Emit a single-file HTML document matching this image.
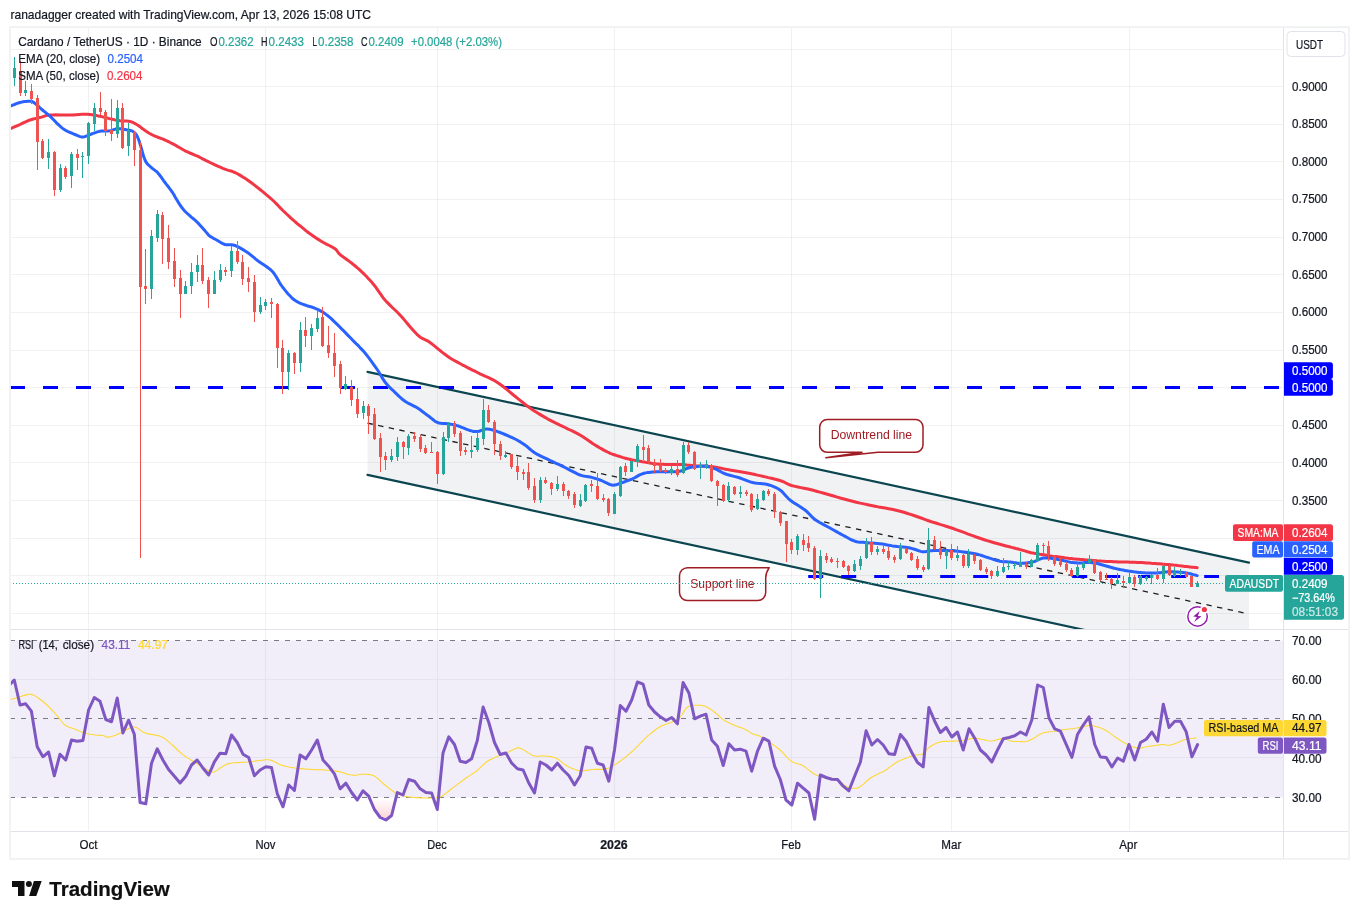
<!DOCTYPE html>
<html lang="en"><head><meta charset="utf-8"><title>ADAUSDT chart</title>
<style>html,body{margin:0;padding:0;background:#fff;}body{width:1359px;height:919px;overflow:hidden;}svg{display:block;font-family:'Liberation Sans', 'DejaVu Sans', sans-serif;}text{white-space:pre;}</style>
</head><body>
<svg width="1359" height="919" viewBox="0 0 1359 919">
<rect width="1359" height="919" fill="#fff"/>
<defs><clipPath id="cm"><rect x="10.5" y="27.5" width="1273" height="601.5"/></clipPath>
<clipPath id="cr"><rect x="10.5" y="629.5" width="1273" height="201.5"/></clipPath>
<linearGradient id="os" gradientUnits="userSpaceOnUse" x1="0" y1="798" x2="0" y2="830"><stop offset="0" stop-color="#f23645" stop-opacity="0"/><stop offset="1" stop-color="#f23645" stop-opacity="0.32"/></linearGradient>
<clipPath id="co"><rect x="10.5" y="798" width="1273" height="33"/></clipPath>
</defs>
<g stroke="#2a2e39" stroke-opacity="0.065" stroke-width="1" shape-rendering="crispEdges">
<line x1="88.5" y1="27" x2="88.5" y2="831"/>
<line x1="265.5" y1="27" x2="265.5" y2="831"/>
<line x1="437.5" y1="27" x2="437.5" y2="831"/>
<line x1="614.5" y1="27" x2="614.5" y2="831"/>
<line x1="791.5" y1="27" x2="791.5" y2="831"/>
<line x1="951.5" y1="27" x2="951.5" y2="831"/>
<line x1="1129.5" y1="27" x2="1129.5" y2="831"/>
<line x1="10" y1="49.5" x2="1283" y2="49.5"/>
<line x1="10" y1="86.5" x2="1283" y2="86.5"/>
<line x1="10" y1="124.5" x2="1283" y2="124.5"/>
<line x1="10" y1="161.5" x2="1283" y2="161.5"/>
<line x1="10" y1="199.5" x2="1283" y2="199.5"/>
<line x1="10" y1="237.5" x2="1283" y2="237.5"/>
<line x1="10" y1="274.5" x2="1283" y2="274.5"/>
<line x1="10" y1="312.5" x2="1283" y2="312.5"/>
<line x1="10" y1="350.5" x2="1283" y2="350.5"/>
<line x1="10" y1="387.5" x2="1283" y2="387.5"/>
<line x1="10" y1="425.5" x2="1283" y2="425.5"/>
<line x1="10" y1="462.5" x2="1283" y2="462.5"/>
<line x1="10" y1="500.5" x2="1283" y2="500.5"/>
<line x1="10" y1="538.5" x2="1283" y2="538.5"/>
<line x1="10" y1="575.5" x2="1283" y2="575.5"/>
<line x1="10" y1="613.5" x2="1283" y2="613.5"/>
</g>
<rect x="10.5" y="640.5" width="1273" height="157" fill="#7e57c2" fill-opacity="0.1"/>
<g stroke="#e6e3f0" stroke-width="1" shape-rendering="crispEdges">
<line x1="10" y1="679.5" x2="1283" y2="679.5"/>
<line x1="10" y1="757.5" x2="1283" y2="757.5"/>
</g>
<g stroke="#787b86" stroke-width="1" stroke-dasharray="5 6" shape-rendering="crispEdges">
<line x1="10" y1="640.5" x2="1283" y2="640.5"/>
<line x1="10" y1="718.5" x2="1283" y2="718.5"/>
<line x1="10" y1="797.5" x2="1283" y2="797.5"/>
</g>
<g clip-path="url(#cm)">
<polygon points="367.5,371.8 1249.0,562.6 1249.0,665.4 367.5,474.6" fill="#787b86" fill-opacity="0.1"/>
<line x1="367.5" y1="371.8" x2="1249.0" y2="562.6" stroke="#0b4650" stroke-width="2.2" stroke-linecap="round"/>
<line x1="367.5" y1="474.8" x2="1249.0" y2="665.6" stroke="#0b4650" stroke-width="2.2" stroke-linecap="round"/>
<line x1="367.5" y1="423.1" x2="1246.0" y2="613.3" stroke="#1e1e1e" stroke-width="1.3" stroke-dasharray="5.4 5.465"/>
<line x1="10" y1="387.5" x2="1283" y2="387.5" stroke="#0000ff" stroke-width="3" stroke-dasharray="15 18"/>
<line x1="808.2" y1="576.5" x2="1219" y2="576.5" stroke="#0000ff" stroke-width="3" stroke-dasharray="15 18"/>
<polyline points="10.0,128.8 11.1,128.3 12.6,127.7 14.4,126.9 16.3,126.1 18.2,125.3 20.0,124.5 21.7,123.7 23.3,122.9 25.0,122.1 26.7,121.4 28.3,120.6 30.0,120.0 31.7,119.5 33.3,119.0 35.0,118.6 36.7,118.3 38.3,117.9 40.0,117.5 41.6,117.1 43.0,116.6 44.4,116.1 45.9,115.6 47.8,115.3 50.0,115.0 52.8,114.9 56.0,114.8 59.5,114.9 63.1,115.0 66.7,115.0 70.0,115.0 73.1,114.9 76.2,114.7 79.2,114.5 82.1,114.3 84.9,114.2 87.5,114.2 89.9,114.4 92.1,114.7 94.2,115.0 96.2,115.4 98.1,115.9 100.0,116.2 101.8,116.6 103.5,117.1 105.2,117.5 106.8,117.9 108.4,118.4 110.0,118.8 111.7,119.1 113.3,119.5 115.0,119.9 116.7,120.2 118.3,120.5 120.0,120.8 121.7,120.9 123.4,121.0 125.2,121.0 126.9,121.1 128.5,121.2 130.0,121.5 131.4,121.9 132.7,122.4 133.9,123.0 135.1,123.6 136.3,124.3 137.5,125.0 138.8,125.8 140.0,126.7 141.2,127.7 142.5,128.7 143.8,129.6 145.0,130.5 146.2,131.3 147.3,132.1 148.4,132.8 149.6,133.5 151.0,134.2 152.5,135.0 154.3,135.8 156.4,136.6 158.6,137.5 160.8,138.3 163.0,139.2 165.0,140.0 166.8,140.8 168.5,141.6 170.2,142.5 171.8,143.3 173.4,144.1 175.0,145.0 176.6,145.9 178.2,146.9 179.8,147.8 181.5,148.8 183.2,149.8 185.0,150.8 186.9,151.7 189.0,152.6 191.1,153.5 193.2,154.4 195.4,155.3 197.5,156.2 199.6,157.2 201.6,158.3 203.6,159.3 205.6,160.4 207.8,161.4 210.0,162.5 212.4,163.6 215.0,164.8 217.7,166.1 220.3,167.2 222.8,168.3 225.0,169.2 226.9,169.9 228.6,170.4 230.2,170.8 231.7,171.2 233.2,171.8 235.0,172.5 236.9,173.5 239.0,174.6 241.1,175.9 243.2,177.2 245.4,178.6 247.5,180.0 249.6,181.5 251.7,183.0 253.8,184.6 255.8,186.2 257.9,187.8 260.0,189.5 262.1,191.2 264.2,192.9 266.2,194.6 268.3,196.3 270.4,198.1 272.5,200.0 274.6,202.0 276.7,204.1 278.8,206.2 280.8,208.4 282.9,210.5 285.0,212.5 287.1,214.5 289.2,216.4 291.2,218.3 293.3,220.1 295.4,222.0 297.5,223.8 299.6,225.5 301.7,227.2 303.8,228.9 305.8,230.6 307.9,232.2 310.0,233.8 312.1,235.2 314.2,236.7 316.2,238.1 318.3,239.4 320.4,240.7 322.5,242.0 324.7,243.2 326.9,244.4 329.2,245.5 331.4,246.6 333.4,247.7 335.0,248.8 336.2,249.7 336.9,250.6 337.5,251.5 338.1,252.4 338.8,253.4 340.0,254.5 341.6,255.8 343.6,257.2 345.8,258.8 348.1,260.4 350.3,262.1 352.5,263.8 354.6,265.5 356.8,267.4 358.9,269.2 361.0,271.2 363.1,273.1 365.0,275.0 366.8,276.8 368.5,278.7 370.2,280.5 371.8,282.3 373.4,284.2 375.0,286.2 376.6,288.4 378.1,290.6 379.7,292.9 381.3,295.2 383.0,297.6 385.0,300.0 387.2,302.4 389.7,304.9 392.3,307.5 395.0,310.0 397.6,312.5 400.0,315.0 402.3,317.5 404.5,320.1 406.7,322.7 408.8,325.2 410.7,327.5 412.5,329.5 414.0,331.2 415.3,332.6 416.4,333.8 417.5,334.9 418.7,335.9 420.0,337.0 421.4,337.9 422.9,338.7 424.4,339.4 426.0,340.1 427.9,341.1 430.0,342.5 432.5,344.4 435.3,346.6 438.3,349.1 441.4,351.6 444.5,354.1 447.5,356.2 450.4,358.2 453.4,360.0 456.4,361.6 459.4,363.2 462.2,364.8 465.0,366.2 467.6,367.6 470.1,368.9 472.5,370.1 474.9,371.2 477.4,372.5 480.0,373.8 482.8,375.1 485.6,376.4 488.6,377.7 491.6,379.2 494.6,380.7 497.5,382.5 500.4,384.5 503.4,386.8 506.4,389.2 509.4,391.6 512.2,394.0 515.0,396.2 517.6,398.3 520.1,400.4 522.5,402.3 524.9,404.2 527.4,406.1 530.0,408.0 532.8,409.9 535.6,411.7 538.6,413.6 541.6,415.4 544.6,417.1 547.5,418.8 550.4,420.3 553.4,421.9 556.4,423.3 559.4,424.8 562.2,426.1 565.0,427.5 567.6,428.8 570.2,430.0 572.7,431.2 575.1,432.4 577.5,433.6 580.0,435.0 582.5,436.6 585.1,438.3 587.7,440.0 590.2,441.8 592.6,443.5 595.0,445.0 597.3,446.4 599.5,447.7 601.7,448.9 603.8,450.1 605.7,451.1 607.5,452.0 609.0,452.7 610.2,453.3 611.2,453.7 612.3,454.1 613.5,454.5 615.0,455.0 616.8,455.6 618.8,456.2 620.9,456.9 623.1,457.6 625.4,458.2 627.5,458.8 629.6,459.2 631.6,459.7 633.6,460.1 635.6,460.5 637.8,460.8 640.0,461.2 642.4,461.7 644.8,462.1 647.3,462.6 649.9,463.0 652.5,463.4 655.0,463.8 657.6,464.0 660.2,464.2 662.8,464.3 665.4,464.4 667.8,464.4 670.0,464.5 671.9,464.5 673.4,464.5 674.9,464.5 676.3,464.4 677.9,464.4 679.8,464.5 681.9,464.6 684.3,464.8 686.9,465.1 689.5,465.3 692.3,465.5 695.0,465.8 697.8,465.9 700.7,466.0 703.6,466.1 706.6,466.3 709.6,466.5 712.5,466.8 715.4,467.2 718.3,467.7 721.2,468.2 724.2,468.9 727.1,469.4 730.0,470.0 732.9,470.5 735.9,471.0 738.9,471.5 741.9,472.0 744.7,472.5 747.5,473.0 750.1,473.5 752.6,474.0 755.0,474.5 757.4,475.1 759.9,475.6 762.5,476.2 765.3,476.9 768.3,477.6 771.4,478.2 774.4,479.0 777.3,479.7 780.0,480.5 782.3,481.3 784.4,482.2 786.2,483.2 788.1,484.1 790.2,485.0 792.5,485.8 795.1,486.4 797.9,487.0 800.8,487.6 803.8,488.2 806.9,488.8 810.0,489.5 813.2,490.3 816.4,491.2 819.7,492.1 823.1,493.0 826.5,494.0 830.0,495.0 833.6,496.0 837.3,497.1 841.1,498.2 844.9,499.2 848.7,500.3 852.5,501.2 856.3,502.2 860.1,503.1 863.9,503.9 867.7,504.7 871.4,505.5 875.0,506.2 878.5,506.9 881.9,507.5 885.3,508.1 888.6,508.7 891.8,509.3 895.0,510.0 898.1,510.7 901.0,511.5 903.9,512.3 906.8,513.2 909.6,514.1 912.5,515.0 915.4,516.0 918.2,517.0 921.1,518.0 924.0,519.1 926.9,520.2 930.0,521.2 933.2,522.3 936.6,523.3 940.0,524.4 943.4,525.4 946.8,526.5 950.0,527.5 953.1,528.5 956.0,529.6 958.9,530.6 961.8,531.7 964.6,532.7 967.5,533.8 970.4,534.8 973.3,535.9 976.2,537.0 979.2,538.0 982.1,539.0 985.0,540.0 988.0,540.9 991.0,541.8 994.1,542.7 997.0,543.5 999.9,544.3 1002.5,545.0 1005.0,545.7 1007.3,546.3 1009.5,546.8 1011.5,547.4 1013.4,547.8 1015.0,548.2 1016.3,548.6 1017.2,548.8 1017.9,549.0 1018.6,549.1 1019.5,549.4 1020.6,549.7 1022.1,550.1 1023.8,550.6 1025.6,551.1 1027.5,551.7 1029.4,552.2 1031.2,552.7 1033.0,553.0 1034.7,553.4 1036.5,553.6 1038.3,553.9 1040.0,554.2 1041.8,554.4 1043.6,554.7 1045.3,555.0 1047.1,555.4 1048.9,555.7 1050.6,555.9 1052.4,556.2 1054.2,556.4 1055.9,556.6 1057.7,556.8 1059.4,557.0 1061.2,557.2 1063.0,557.4 1064.7,557.7 1066.5,557.9 1068.3,558.2 1070.0,558.4 1071.8,558.6 1073.6,558.9 1075.3,559.0 1077.1,559.2 1078.9,559.3 1080.6,559.5 1082.4,559.6 1084.2,559.7 1085.9,559.9 1087.6,560.0 1089.2,560.2 1091.0,560.3 1092.8,560.5 1094.8,560.6 1096.9,560.8 1099.2,560.9 1101.6,561.1 1104.1,561.2 1106.5,561.4 1108.9,561.5 1111.3,561.6 1113.6,561.7 1116.0,561.8 1118.3,561.9 1120.7,562.0 1123.0,562.0 1125.4,562.1 1127.7,562.1 1130.1,562.2 1132.4,562.2 1134.8,562.3 1137.2,562.4 1139.5,562.5 1141.9,562.6 1144.3,562.8 1146.7,563.0 1149.0,563.1 1151.3,563.3 1153.4,563.4 1155.5,563.5 1157.5,563.7 1159.5,563.8 1161.5,564.0 1163.6,564.2 1165.9,564.4 1168.4,564.6 1170.8,564.8 1173.3,565.1 1175.6,565.3 1177.8,565.6 1179.8,565.8 1181.6,566.0 1183.4,566.2 1185.1,566.4 1186.7,566.6 1188.4,566.8 1190.0,567.0 1191.8,567.2 1193.4,567.3 1195.0,567.5 1196.3,567.6 1197.2,567.7" fill="none" stroke="#f23645" stroke-width="3" stroke-linejoin="round" stroke-linecap="round"/>
<polyline points="10.0,106.2 11.1,105.8 12.6,105.2 14.5,104.5 16.4,103.7 18.3,103.0 20.0,102.5 21.6,102.1 23.1,101.8 24.7,101.6 26.2,101.4 27.5,101.3 28.8,101.2 29.8,101.2 30.6,101.2 31.2,101.3 31.9,101.5 32.7,101.9 33.8,102.5 35.0,103.4 36.4,104.6 38.0,105.9 39.5,107.4 41.1,108.8 42.5,110.0 43.8,111.1 45.1,112.1 46.3,113.1 47.5,114.1 48.8,115.2 50.0,116.2 51.2,117.4 52.5,118.7 53.8,120.0 55.0,121.3 56.2,122.6 57.5,123.8 58.7,124.9 59.9,126.0 61.1,127.1 62.3,128.1 63.6,129.1 65.0,130.0 66.6,130.9 68.2,131.7 70.0,132.5 71.8,133.2 73.4,133.9 75.0,134.5 76.4,135.1 77.7,135.7 78.9,136.2 80.1,136.6 81.3,136.9 82.5,137.0 83.7,136.9 84.9,136.6 86.1,136.1 87.3,135.6 88.6,135.0 90.0,134.5 91.5,134.0 93.1,133.4 94.8,132.8 96.6,132.2 98.3,131.6 100.0,131.2 101.7,131.0 103.4,130.9 105.2,130.9 106.9,130.9 108.5,130.9 110.0,130.8 111.3,130.5 112.5,130.1 113.6,129.7 114.7,129.3 115.8,128.9 117.0,128.8 118.3,128.7 119.6,128.7 120.9,128.8 122.2,129.0 123.6,129.2 125.0,129.5 126.5,129.8 128.0,130.0 129.6,130.3 131.1,130.7 132.5,131.2 133.8,132.0 134.8,132.9 135.6,133.8 136.4,134.9 137.1,136.2 137.9,137.9 138.8,140.0 139.7,142.8 140.7,146.2 141.8,150.0 142.9,153.8 143.9,157.3 145.0,160.0 146.0,162.0 147.1,163.5 148.1,164.7 149.2,165.6 150.2,166.5 151.2,167.5 152.3,168.4 153.3,169.2 154.3,169.8 155.3,170.6 156.4,171.4 157.5,172.5 158.7,173.9 159.9,175.5 161.2,177.2 162.5,179.0 163.7,180.8 165.0,182.5 166.2,184.1 167.5,185.7 168.8,187.3 170.0,189.0 171.2,190.7 172.5,192.5 173.8,194.5 175.0,196.7 176.3,198.9 177.6,201.1 178.8,203.2 180.0,205.0 181.1,206.5 182.0,207.8 182.9,208.9 183.8,210.0 184.9,211.2 186.2,212.5 187.9,214.0 189.7,215.6 191.6,217.3 193.7,219.0 195.6,220.7 197.5,222.5 199.3,224.4 201.2,226.5 203.0,228.6 204.8,230.6 206.3,232.4 207.5,233.8 208.3,234.7 208.7,235.2 208.9,235.4 209.1,235.6 209.4,235.8 210.0,236.2 211.0,236.9 212.1,237.5 213.4,238.3 214.8,239.0 216.2,239.8 217.5,240.5 218.7,241.2 219.9,242.0 221.1,242.7 222.3,243.4 223.6,244.0 225.0,244.5 226.5,244.8 228.1,244.8 229.7,244.8 231.4,244.8 233.2,245.0 235.0,245.5 237.0,246.3 239.1,247.4 241.2,248.6 243.4,249.9 245.5,251.2 247.5,252.5 249.3,253.8 250.9,255.1 252.5,256.4 254.1,257.7 255.7,259.1 257.5,260.5 259.5,261.9 261.8,263.5 264.1,265.0 266.3,266.5 268.3,268.0 270.0,269.2 271.2,270.3 272.1,271.2 272.8,271.9 273.4,272.7 274.1,273.7 275.0,275.0 276.1,276.6 277.2,278.5 278.4,280.6 279.6,282.7 281.0,284.9 282.5,287.0 284.2,289.1 286.0,291.4 287.9,293.7 289.9,295.8 291.8,297.8 293.8,299.5 295.6,300.8 297.5,301.9 299.4,302.8 301.2,303.6 303.1,304.3 305.0,305.0 306.9,305.7 308.8,306.3 310.6,306.8 312.5,307.3 314.4,308.0 316.2,308.8 318.1,309.6 320.0,310.6 321.8,311.6 323.7,312.8 325.6,314.1 327.5,315.5 329.5,317.1 331.5,318.9 333.5,320.9 335.6,322.9 337.7,324.9 339.8,327.0 341.8,329.1 344.0,331.2 346.1,333.4 348.2,335.6 350.4,337.8 352.5,340.0 354.6,342.1 356.7,344.2 358.8,346.2 360.8,348.4 362.9,350.6 365.0,353.0 367.1,355.7 369.4,358.6 371.6,361.6 373.7,364.6 375.7,367.4 377.5,370.0 379.0,372.3 380.3,374.5 381.5,376.5 382.6,378.4 383.7,380.2 385.0,382.0 386.4,383.7 387.7,385.3 389.1,386.8 390.6,388.2 392.1,389.7 393.8,391.2 395.5,392.9 397.3,394.6 399.1,396.4 401.1,398.1 403.0,399.8 405.0,401.2 407.0,402.5 409.1,403.7 411.2,404.7 413.4,405.8 415.5,406.8 417.5,408.0 419.5,409.3 421.4,410.7 423.4,412.2 425.2,413.6 427.0,415.0 428.8,416.2 430.3,417.5 431.8,418.7 433.2,419.8 434.6,420.9 436.0,421.8 437.5,422.5 439.1,423.0 440.7,423.3 442.4,423.4 444.1,423.5 445.8,423.6 447.5,423.8 449.1,424.0 450.7,424.3 452.3,424.5 454.0,424.9 455.7,425.2 457.5,425.8 459.5,426.4 461.7,427.3 463.9,428.2 466.1,429.1 468.2,429.9 470.0,430.5 471.5,430.9 472.8,431.2 473.9,431.5 475.0,431.6 476.2,431.6 477.5,431.5 479.0,431.2 480.6,430.7 482.2,430.1 483.9,429.5 485.7,429.1 487.5,429.0 489.4,429.2 491.4,429.6 493.4,430.2 495.6,430.9 497.7,431.7 500.0,432.5 502.4,433.4 505.0,434.5 507.7,435.6 510.3,436.8 512.8,437.9 515.0,439.0 517.0,440.0 518.7,441.0 520.3,441.9 521.9,442.9 523.4,443.9 525.0,445.0 526.6,446.2 528.2,447.6 529.8,449.0 531.5,450.4 533.2,451.7 535.0,453.0 536.9,454.1 538.8,455.1 540.8,456.1 542.9,457.1 545.1,458.1 547.5,459.2 550.2,460.5 553.1,461.9 556.1,463.3 559.2,464.7 562.2,466.1 565.0,467.5 567.7,468.9 570.4,470.3 573.0,471.6 575.5,472.9 577.8,474.1 580.0,475.0 582.0,475.6 583.7,476.0 585.3,476.3 586.9,476.5 588.4,476.7 590.0,477.0 591.7,477.4 593.3,477.9 595.0,478.3 596.7,478.9 598.3,479.4 600.0,480.0 601.7,480.7 603.5,481.5 605.3,482.4 607.0,483.2 608.6,484.0 610.0,484.5 611.1,484.8 611.9,485.1 612.7,485.2 613.3,485.2 614.1,485.1 615.0,485.0 616.1,484.8 617.2,484.4 618.4,484.0 619.7,483.5 621.1,483.0 622.5,482.5 624.0,482.0 625.6,481.4 627.3,480.8 629.1,480.1 630.8,479.5 632.5,478.8 634.2,478.0 635.8,477.1 637.5,476.1 639.2,475.2 640.8,474.4 642.5,473.8 644.1,473.3 645.7,472.9 647.3,472.6 649.0,472.4 650.7,472.2 652.5,472.0 654.4,471.9 656.4,471.8 658.5,471.8 660.6,471.8 662.8,471.8 665.0,471.8 667.4,471.7 669.9,471.7 672.5,471.7 675.1,471.7 677.5,471.5 679.8,471.2 681.7,470.8 683.3,470.1 684.9,469.4 686.4,468.7 688.1,468.0 690.0,467.5 692.3,467.1 694.8,466.8 697.5,466.5 700.2,466.3 702.7,466.2 705.0,466.2 707.0,466.4 708.7,466.7 710.3,467.1 711.9,467.6 713.4,468.1 715.0,468.8 716.6,469.4 718.1,470.3 719.7,471.1 721.3,472.0 723.0,472.9 725.0,473.8 727.2,474.5 729.7,475.2 732.3,475.9 735.0,476.6 737.6,477.3 740.0,478.0 742.2,478.8 744.3,479.6 746.2,480.4 748.2,481.2 750.3,481.9 752.5,482.5 754.9,482.9 757.4,483.2 760.0,483.4 762.6,483.7 765.1,484.0 767.5,484.5 769.8,485.2 771.9,485.9 774.1,486.8 776.1,487.7 778.1,488.8 780.0,490.0 781.8,491.4 783.3,493.0 784.8,494.7 786.4,496.5 788.1,498.3 790.0,500.0 792.3,501.7 794.8,503.4 797.5,505.0 800.2,506.7 802.7,508.4 805.0,510.0 806.9,511.6 808.5,513.2 810.0,514.8 811.5,516.4 813.1,518.0 815.0,519.5 817.2,521.0 819.7,522.5 822.3,523.9 825.0,525.3 827.6,526.7 830.0,528.0 832.2,529.3 834.4,530.5 836.4,531.6 838.4,532.8 840.4,533.9 842.5,535.0 844.6,536.1 846.8,537.3 848.9,538.5 851.0,539.6 853.1,540.5 855.0,541.2 856.8,541.7 858.3,542.0 859.8,542.2 861.4,542.3 863.1,542.3 865.0,542.5 867.2,542.7 869.6,542.9 872.2,543.0 874.8,543.2 877.4,543.5 880.0,543.8 882.5,544.1 885.0,544.5 887.5,545.0 890.0,545.4 892.5,545.9 895.0,546.2 897.5,546.6 900.1,546.8 902.7,547.0 905.2,547.3 907.6,547.6 910.0,548.0 912.3,548.6 914.5,549.3 916.7,550.0 918.8,550.8 920.7,551.4 922.5,551.8 924.0,551.8 925.2,551.7 926.2,551.5 927.3,551.2 928.5,550.9 930.0,550.8 931.8,550.7 933.7,550.6 935.8,550.5 938.0,550.5 940.2,550.5 942.5,550.5 944.8,550.5 947.2,550.6 949.7,550.7 952.2,550.8 954.8,551.0 957.5,551.2 960.3,551.6 963.3,551.9 966.4,552.3 969.4,552.8 972.3,553.2 975.0,553.8 977.4,554.3 979.5,554.9 981.6,555.5 983.5,556.2 985.5,556.9 987.5,557.5 989.6,558.2 991.8,558.9 993.9,559.6 996.0,560.2 998.1,560.8 1000.0,561.2 1001.8,561.5 1003.5,561.7 1005.1,561.8 1006.7,561.8 1008.3,561.9 1010.0,562.0 1011.7,562.2 1013.5,562.5 1015.3,562.7 1017.0,563.0 1018.8,563.2 1020.6,563.3 1022.4,563.3 1024.3,563.2 1026.2,563.0 1028.1,562.8 1029.7,562.6 1031.2,562.4 1032.4,562.2 1033.3,561.9 1034.1,561.6 1034.8,561.3 1035.6,561.0 1036.5,560.6 1037.5,560.2 1038.6,559.7 1039.8,559.2 1041.0,558.6 1042.3,558.2 1043.6,558.0 1044.9,557.9 1046.3,557.9 1047.7,557.9 1049.2,558.1 1050.8,558.3 1052.4,558.5 1054.1,558.8 1055.9,559.1 1057.7,559.5 1059.5,559.9 1061.3,560.3 1063.0,560.6 1064.6,560.9 1066.1,561.3 1067.5,561.6 1068.9,561.9 1070.4,562.2 1071.8,562.4 1073.3,562.6 1074.8,562.7 1076.2,562.8 1077.7,562.9 1079.2,562.9 1080.6,562.9 1082.1,562.9 1083.6,562.7 1085.1,562.6 1086.5,562.5 1088.0,562.4 1089.5,562.4 1090.9,562.5 1092.3,562.7 1093.8,562.9 1095.2,563.1 1096.7,563.4 1098.3,563.8 1100.0,564.2 1101.7,564.7 1103.5,565.2 1105.3,565.8 1107.1,566.3 1108.9,566.8 1110.7,567.3 1112.4,567.7 1114.2,568.2 1116.0,568.6 1117.7,569.1 1119.5,569.4 1121.3,569.8 1123.0,570.1 1124.8,570.4 1126.6,570.7 1128.3,571.0 1130.1,571.2 1131.9,571.5 1133.6,571.8 1135.4,572.0 1137.2,572.2 1138.9,572.5 1140.7,572.6 1142.5,572.8 1144.2,572.8 1146.0,572.9 1147.7,573.0 1149.5,573.0 1151.3,573.0 1153.1,573.0 1154.9,572.9 1156.8,572.9 1158.6,572.8 1160.3,572.7 1161.9,572.6 1163.2,572.5 1164.4,572.3 1165.5,572.1 1166.6,572.0 1167.7,571.8 1168.9,571.7 1170.3,571.7 1171.8,571.8 1173.2,571.8 1174.8,571.9 1176.3,572.0 1177.8,572.1 1179.2,572.2 1180.6,572.3 1182.1,572.4 1183.5,572.5 1185.0,572.7 1186.6,573.0 1188.4,573.4 1190.4,573.8 1192.5,574.4 1194.4,574.9 1196.0,575.3 1197.2,575.6" fill="none" stroke="#2962ff" stroke-width="3" stroke-linejoin="round" stroke-linecap="round"/>
<path d="M14 57h1v29h-1zM13 68h3v10h-3zM25 81h1v15h-1zM24 90h3v3h-3zM48 139h1v30h-1zM47 152h3v6h-3zM60 164h1v28h-1zM59 168h3v22h-3zM71 152h1v36h-1zM70 154h3v22h-3zM82 152h1v26h-1zM81 156h3v1h-3zM88 122h1v42h-1zM87 123h3v33h-3zM94 103h1v28h-1zM93 108h3v16h-3zM117 100h1v38h-1zM116 108h3v26h-3zM128 123h1v33h-1zM127 130h3v16h-3zM151 230h1v69h-1zM150 236h3v53h-3zM157 210h1v32h-1zM156 214h3v24h-3zM185 281h1v13h-1zM184 286h3v8h-3zM191 263h1v31h-1zM190 272h3v14h-3zM197 255h1v27h-1zM196 265h3v7h-3zM214 271h1v23h-1zM213 280h3v14h-3zM220 264h1v18h-1zM219 270h3v10h-3zM231 246h1v31h-1zM230 251h3v20h-3zM260 297h1v17h-1zM259 305h3v7h-3zM265 299h1v11h-1zM264 302h3v4h-3zM288 350h1v40h-1zM287 353h3v19h-3zM300 322h1v50h-1zM299 330h3v33h-3zM311 324h1v26h-1zM310 328h3v8h-3zM317 310h1v22h-1zM316 318h3v11h-3zM345 376h1v14h-1zM344 384h3v5h-3zM363 401h1v18h-1zM362 406h3v7h-3zM391 449h1v13h-1zM390 456h3v4h-3zM397 437h1v24h-1zM396 442h3v15h-3zM408 434h1v21h-1zM407 436h3v12h-3zM443 432h1v43h-1zM442 437h3v37h-3zM448 422h1v20h-1zM447 424h3v14h-3zM471 436h1v22h-1zM470 450h3v2h-3zM477 432h1v20h-1zM476 438h3v12h-3zM483 399h1v46h-1zM482 410h3v29h-3zM505 451h1v7h-1zM504 455h3v2h-3zM540 477h1v26h-1zM539 480h3v20h-3zM557 476h1v15h-1zM556 484h3v5h-3zM580 494h1v13h-1zM579 500h3v6h-3zM585 484h1v18h-1zM584 485h3v16h-3zM614 492h1v22h-1zM613 494h3v20h-3zM620 466h1v31h-1zM619 467h3v29h-3zM631 459h1v13h-1zM630 461h3v11h-3zM637 444h1v23h-1zM636 446h3v16h-3zM671 465h1v10h-1zM670 469h3v4h-3zM683 442h1v32h-1zM682 445h3v28h-3zM700 462h1v17h-1zM699 465h3v3h-3zM706 460h1v9h-1zM705 464h3v3h-3zM728 482h1v20h-1zM727 486h3v14h-3zM740 486h1v12h-1zM739 492h3v2h-3zM757 494h1v16h-1zM756 499h3v10h-3zM763 490h1v11h-1zM762 491h3v9h-3zM797 534h1v21h-1zM796 536h3v14h-3zM820 550h1v48h-1zM819 556h3v23h-3zM854 560h1v12h-1zM853 564h3v7h-3zM860 556h1v14h-1zM859 559h3v7h-3zM866 538h1v21h-1zM865 542h3v16h-3zM877 546h1v9h-1zM876 549h3v3h-3zM900 543h1v17h-1zM899 546h3v13h-3zM928 528h1v42h-1zM927 540h3v29h-3zM946 550h1v19h-1zM945 551h3v5h-3zM957 546h1v15h-1zM956 555h3v3h-3zM968 549h1v19h-1zM967 554h3v12h-3zM997 566h1v11h-1zM996 571h3v5h-3zM1003 558h1v15h-1zM1002 567h3v5h-3zM1008 562h1v8h-1zM1007 566h3v1h-3zM1014 563h1v6h-1zM1013 565h3v1h-3zM1020 552h1v15h-1zM1019 562h3v5h-3zM1031 559h1v8h-1zM1030 560h3v7h-3zM1037 543h1v19h-1zM1036 545h3v16h-3zM1077 563h1v14h-1zM1076 567h3v9h-3zM1083 562h1v8h-1zM1082 563h3v5h-3zM1089 555h1v9h-1zM1088 559h3v4h-3zM1117 573h1v11h-1zM1116 580h3v4h-3zM1129 572h1v12h-1zM1128 577h3v6h-3zM1140 575h1v10h-1zM1139 576h3v8h-3zM1146 576h1v5h-1zM1145 577h3v2h-3zM1151 574h1v10h-1zM1150 575h3v3h-3zM1163 563h1v20h-1zM1162 566h3v13h-3zM1174 567h1v10h-1zM1173 572h3v4h-3zM1180 569h1v7h-1zM1179 572h3v2h-3zM1197 581h1v6h-1zM1196 583h3v4h-3z" fill="#26a69a" shape-rendering="crispEdges"/>
<path d="M20 61h1v35h-1zM19 71h3v22h-3zM31 84h1v20h-1zM30 91h3v8h-3zM37 95h1v75h-1zM36 98h3v44h-3zM42 139h1v20h-1zM41 141h3v17h-3zM54 151h1v45h-1zM53 152h3v38h-3zM65 166h1v13h-1zM64 168h3v9h-3zM77 149h1v21h-1zM76 154h3v4h-3zM100 92h1v23h-1zM99 108h3v4h-3zM105 110h1v26h-1zM104 112h3v19h-3zM111 99h1v42h-1zM110 130h3v4h-3zM122 103h1v46h-1zM121 108h3v40h-3zM134 131h1v35h-1zM133 132h3v18h-3zM140 142h1v416h-1zM139 150h3v137h-3zM145 249h1v55h-1zM144 286h3v3h-3zM162 212h1v52h-1zM161 215h3v24h-3zM168 225h1v44h-1zM167 238h3v24h-3zM174 248h1v39h-1zM173 261h3v18h-3zM180 270h1v48h-1zM179 278h3v16h-3zM202 248h1v36h-1zM201 265h3v16h-3zM208 277h1v31h-1zM207 280h3v14h-3zM225 267h1v9h-1zM224 270h3v2h-3zM237 241h1v23h-1zM236 251h3v11h-3zM242 255h1v30h-1zM241 262h3v17h-3zM248 267h1v25h-1zM247 278h3v4h-3zM254 275h1v47h-1zM253 282h3v30h-3zM271 298h1v20h-1zM270 302h3v2h-3zM277 303h1v65h-1zM276 304h3v44h-3zM282 340h1v54h-1zM281 348h3v24h-3zM294 352h1v22h-1zM293 353h3v10h-3zM305 317h1v30h-1zM304 330h3v6h-3zM322 307h1v40h-1zM321 317h3v29h-3zM328 326h1v32h-1zM327 345h3v8h-3zM334 333h1v44h-1zM333 353h3v13h-3zM340 361h1v33h-1zM339 364h3v24h-3zM351 380h1v26h-1zM350 387h3v13h-3zM357 388h1v30h-1zM356 399h3v15h-3zM368 404h1v30h-1zM367 406h3v10h-3zM374 408h1v32h-1zM373 414h3v25h-3zM380 433h1v39h-1zM379 438h3v19h-3zM385 452h1v18h-1zM384 456h3v4h-3zM403 441h1v18h-1zM402 442h3v5h-3zM414 432h1v10h-1zM413 436h3v3h-3zM420 435h1v17h-1zM419 437h3v12h-3zM425 445h1v9h-1zM424 448h3v5h-3zM431 442h1v11h-1zM430 452h3v1h-3zM437 451h1v33h-1zM436 452h3v22h-3zM454 421h1v16h-1zM453 423h3v11h-3zM460 431h1v25h-1zM459 433h3v18h-3zM465 447h1v8h-1zM464 450h3v2h-3zM488 405h1v18h-1zM487 410h3v12h-3zM494 420h1v35h-1zM493 422h3v22h-3zM500 441h1v19h-1zM499 444h3v12h-3zM511 454h1v15h-1zM510 454h3v13h-3zM517 457h1v23h-1zM516 466h3v6h-3zM523 469h1v11h-1zM522 472h3v2h-3zM528 463h1v27h-1zM527 472h3v16h-3zM534 478h1v25h-1zM533 486h3v14h-3zM545 477h1v7h-1zM544 480h3v3h-3zM551 482h1v13h-1zM550 483h3v6h-3zM563 482h1v14h-1zM562 484h3v7h-3zM568 490h1v9h-1zM567 491h3v5h-3zM574 492h1v16h-1zM573 494h3v11h-3zM591 480h1v12h-1zM590 484h3v2h-3zM597 473h1v27h-1zM596 486h3v13h-3zM603 494h1v8h-1zM602 498h3v2h-3zM608 498h1v18h-1zM607 499h3v14h-3zM625 463h1v13h-1zM624 466h3v6h-3zM643 435h1v25h-1zM642 447h3v3h-3zM648 445h1v19h-1zM647 448h3v14h-3zM654 459h1v14h-1zM653 462h3v4h-3zM660 459h1v13h-1zM659 465h3v5h-3zM665 468h1v6h-1zM664 470h3v2h-3zM677 460h1v17h-1zM676 469h3v6h-3zM688 442h1v12h-1zM687 445h3v7h-3zM694 451h1v19h-1zM693 452h3v17h-3zM711 464h1v18h-1zM710 465h3v16h-3zM717 480h1v26h-1zM716 481h3v5h-3zM723 484h1v18h-1zM722 485h3v16h-3zM734 486h1v9h-1zM733 487h3v7h-3zM746 490h1v6h-1zM745 492h3v2h-3zM751 493h1v19h-1zM750 494h3v16h-3zM768 489h1v7h-1zM767 491h3v3h-3zM774 492h1v26h-1zM773 494h3v18h-3zM780 511h1v15h-1zM779 512h3v11h-3zM786 521h1v41h-1zM785 521h3v23h-3zM791 539h1v15h-1zM790 542h3v8h-3zM803 534h1v17h-1zM802 540h3v5h-3zM808 536h1v16h-1zM807 543h3v5h-3zM814 546h1v34h-1zM813 548h3v31h-3zM826 553h1v10h-1zM825 556h3v4h-3zM831 557h1v6h-1zM830 559h3v3h-3zM837 558h1v10h-1zM836 561h3v1h-3zM843 560h1v8h-1zM842 561h3v6h-3zM848 565h1v10h-1zM847 566h3v5h-3zM871 537h1v18h-1zM870 542h3v10h-3zM883 546h1v8h-1zM882 549h3v3h-3zM888 547h1v13h-1zM887 551h3v7h-3zM894 555h1v8h-1zM893 557h3v3h-3zM906 548h1v6h-1zM905 549h3v4h-3zM911 552h1v9h-1zM910 553h3v7h-3zM917 556h1v14h-1zM916 559h3v9h-3zM923 565h1v7h-1zM922 567h3v3h-3zM934 536h1v14h-1zM933 540h3v9h-3zM940 541h1v18h-1zM939 548h3v7h-3zM951 544h1v16h-1zM950 550h3v8h-3zM963 554h1v14h-1zM962 555h3v11h-3zM974 554h1v10h-1zM973 555h3v6h-3zM980 559h1v12h-1zM979 560h3v10h-3zM986 567h1v7h-1zM985 569h3v3h-3zM991 570h1v9h-1zM990 571h3v5h-3zM1026 562h1v7h-1zM1025 564h3v3h-3zM1043 543h1v10h-1zM1042 545h3v1h-3zM1048 541h1v20h-1zM1047 546h3v9h-3zM1054 555h1v11h-1zM1053 556h3v8h-3zM1060 558h1v9h-1zM1059 562h3v3h-3zM1066 562h1v10h-1zM1065 564h3v6h-3zM1071 568h1v9h-1zM1070 570h3v6h-3zM1094 559h1v15h-1zM1093 560h3v13h-3zM1100 571h1v10h-1zM1099 572h3v8h-3zM1106 573h1v7h-1zM1105 579h3v1h-3zM1111 577h1v12h-1zM1110 579h3v5h-3zM1123 576h1v12h-1zM1122 581h3v2h-3zM1134 575h1v12h-1zM1133 577h3v7h-3zM1157 568h1v12h-1zM1156 575h3v4h-3zM1169 565h1v11h-1zM1168 566h3v9h-3zM1186 572h1v5h-1zM1185 573h3v4h-3zM1191 575h1v12h-1zM1190 576h3v11h-3z" fill="#ef5350" shape-rendering="crispEdges"/>
<g fill="#fff" stroke="#a01c24" stroke-width="1.5" stroke-linejoin="round">
<path d="M827.2 419.6h88.3a7.5 7.5 0 0 1 7.5 7.5v17.7a7.5 7.5 0 0 1 -7.5 7.5H878L825.8 457.7L862 452.3h-34.8a7.5 7.5 0 0 1 -7.5 -7.5v-17.7a7.5 7.5 0 0 1 7.5 -7.5z"/>
<path d="M687.5 567.7H769.2Q765.7 573 765.7 578V592.5a8 8 0 0 1 -8 8H687.5a8 8 0 0 1 -8 -8V575.7a8 8 0 0 1 8 -8z"/>
</g>
<text x="830.7" y="439" font-size="12" stroke="none" fill="#a01c24" textLength="81.4" lengthAdjust="spacingAndGlyphs">Downtrend line</text>
<text x="690.2" y="587.7" font-size="12" stroke="none" fill="#a01c24" textLength="64.4" lengthAdjust="spacingAndGlyphs">Support line</text>
<line x1="10" y1="583.5" x2="1283" y2="583.5" stroke="#26a69a" stroke-width="1" stroke-dasharray="1 2" shape-rendering="crispEdges"/>
</g>
<g><circle cx="1197.55" cy="616.4" r="11.8" fill="#fff"/><circle cx="1197.55" cy="616.4" r="9.75" fill="#fff" stroke="#9420ad" stroke-width="1.5"/>
<path d="M1199.7 611.1L1193.2 616.5L1196.9 616.9L1194.1 622L1201.6 616.2L1197.9 615.9z" fill="#9420ad"/>
<circle cx="1204.4" cy="609.5" r="4.4" fill="#fff"/><circle cx="1204.4" cy="609.5" r="2.6" fill="#f23645"/></g>
<g clip-path="url(#cr)">
<polygon clip-path="url(#co)" points="8.6,797 8.6,685.9 14.3,680.0 20.0,705.0 25.7,703.8 31.4,711.2 37.2,746.8 42.9,756.8 48.6,752.0 54.3,775.8 60.0,754.2 65.7,760.0 71.5,740.0 77.2,741.2 82.9,740.5 88.6,710.0 94.3,697.5 100.0,701.2 105.8,719.5 111.5,721.8 117.2,698.0 122.9,733.0 128.6,720.0 134.3,734.2 140.1,802.5 145.8,803.8 151.5,763.2 157.2,748.8 162.9,760.0 168.6,769.5 174.4,776.2 180.1,783.0 185.8,776.2 191.5,765.0 197.2,760.0 202.9,768.0 208.7,775.0 214.4,761.8 220.1,753.2 225.8,753.8 231.5,735.0 237.2,742.5 243.0,754.2 248.7,757.5 254.4,775.8 260.1,770.0 265.8,766.8 271.5,767.5 277.3,793.8 283.0,806.8 288.7,785.0 294.4,790.5 300.1,755.0 305.8,758.8 311.6,750.0 317.3,740.0 323.0,760.0 328.7,766.2 334.4,773.8 340.1,788.8 345.9,783.2 351.6,792.5 357.3,800.0 363.0,790.8 368.7,796.2 374.4,809.5 380.2,817.5 385.9,820.0 391.6,815.5 397.3,792.5 403.0,795.0 408.7,779.5 414.5,781.2 420.2,788.8 425.9,792.5 431.6,793.0 437.3,809.5 443.0,753.0 448.8,736.8 454.5,744.5 460.2,761.2 465.9,762.5 471.6,758.8 477.3,740.5 483.1,707.0 488.8,722.5 494.5,742.5 500.2,754.5 505.9,753.0 511.6,763.0 517.4,768.8 523.1,770.0 528.8,783.0 534.5,793.0 540.2,762.0 545.9,765.0 551.7,770.0 557.4,763.2 563.1,770.0 568.8,775.5 574.5,785.0 580.2,775.8 586.0,747.0 591.7,748.2 597.4,763.2 603.1,765.0 608.8,781.2 614.5,750.0 620.3,705.5 626.0,711.2 631.7,700.0 637.4,682.0 643.1,684.2 648.8,705.0 654.6,712.0 660.3,716.8 666.0,720.5 671.7,717.5 677.4,723.8 683.1,682.5 688.9,693.0 694.6,718.8 700.3,716.2 706.0,714.2 711.7,740.0 717.4,746.2 723.2,765.5 728.9,743.8 734.6,750.0 740.3,749.2 746.0,751.2 751.7,771.2 757.5,751.2 763.2,738.2 768.9,741.2 774.6,766.2 780.3,779.5 786.0,800.0 791.8,805.0 797.5,783.2 803.2,788.2 808.9,793.0 814.6,819.2 820.3,775.0 826.1,777.5 831.8,779.2 837.5,779.5 843.2,786.2 848.9,790.8 854.6,776.2 860.4,762.0 866.1,730.8 871.8,745.0 877.5,739.5 883.2,745.0 888.9,753.8 894.6,754.5 900.4,734.5 906.1,741.2 911.8,752.5 917.5,762.5 923.2,766.8 928.9,707.5 934.7,721.2 940.4,732.5 946.1,727.5 951.8,737.0 957.5,732.0 963.2,750.0 969.0,728.8 974.7,738.2 980.4,750.0 986.1,755.0 991.8,762.0 997.5,750.0 1003.3,738.8 1009.0,737.5 1014.7,735.8 1020.4,732.0 1026.1,735.0 1031.8,720.0 1037.6,685.0 1043.3,687.5 1049.0,718.0 1054.7,728.8 1060.4,731.2 1066.1,744.2 1071.9,757.5 1077.6,734.2 1083.3,725.0 1089.0,716.8 1094.7,744.5 1100.4,757.0 1106.2,757.5 1111.9,767.0 1117.6,758.0 1123.3,761.2 1129.0,744.5 1134.7,760.0 1140.5,742.5 1146.2,739.2 1151.9,732.0 1157.6,741.2 1163.3,704.2 1169.0,727.5 1174.8,721.2 1180.5,721.2 1186.2,731.8 1191.9,756.8 1197.6,744.5 1197.6,797" fill="url(#os)"/>
<polyline points="10.0,700.0 11.1,699.6 12.6,699.1 14.4,698.5 16.3,697.9 18.2,697.3 20.0,696.8 21.7,696.2 23.4,695.6 25.2,695.1 26.9,694.6 28.5,694.3 30.0,694.2 31.4,694.4 32.6,694.7 33.8,695.2 34.9,695.9 36.1,696.6 37.5,697.5 39.0,698.5 40.6,699.7 42.3,701.0 44.1,702.5 45.8,704.0 47.5,705.5 49.2,707.2 50.9,709.0 52.7,710.8 54.4,712.7 56.0,714.5 57.5,716.2 58.9,717.9 60.1,719.5 61.2,721.0 62.4,722.5 63.6,723.8 65.0,725.0 66.5,726.0 68.1,726.8 69.8,727.4 71.6,728.0 73.3,728.6 75.0,729.2 76.7,729.9 78.3,730.6 80.0,731.3 81.7,731.9 83.3,732.5 85.0,733.0 86.7,733.5 88.4,733.9 90.2,734.2 91.9,734.5 93.5,734.8 95.0,735.0 96.4,735.2 97.7,735.2 98.9,735.3 100.1,735.3 101.3,735.4 102.5,735.5 103.7,735.8 104.8,736.2 105.9,736.6 107.1,736.9 108.5,737.1 110.0,737.0 111.8,736.5 113.8,735.8 116.0,734.9 118.2,733.9 120.4,732.9 122.5,732.0 124.4,731.0 126.3,729.8 128.2,728.7 130.0,727.7 131.9,727.0 133.8,726.8 135.6,727.2 137.5,728.1 139.3,729.4 141.2,730.8 143.1,732.0 145.0,733.0 147.1,733.6 149.3,734.1 151.5,734.4 153.7,734.7 155.7,735.1 157.5,735.5 159.0,735.9 160.3,736.3 161.4,736.7 162.5,737.2 163.7,737.9 165.0,738.8 166.5,739.9 168.1,741.3 169.8,742.8 171.6,744.4 173.3,746.0 175.0,747.5 176.6,749.0 178.2,750.5 179.8,752.0 181.5,753.4 183.2,754.9 185.0,756.2 187.0,757.6 189.1,758.9 191.2,760.2 193.4,761.4 195.5,762.6 197.5,763.8 199.4,764.9 201.2,766.1 202.9,767.2 204.5,768.3 206.1,769.2 207.5,770.0 208.7,770.7 209.7,771.3 210.5,771.8 211.4,772.2 212.5,772.2 213.8,772.0 215.4,771.3 217.3,770.1 219.3,768.8 221.3,767.3 223.3,766.0 225.0,765.0 226.4,764.4 227.5,763.9 228.5,763.6 229.6,763.4 230.9,763.2 232.5,763.0 234.6,762.8 237.0,762.6 239.7,762.5 242.4,762.3 245.1,762.2 247.5,762.0 249.8,761.8 251.9,761.5 254.1,761.2 256.1,760.9 258.1,760.7 260.0,760.5 261.8,760.3 263.5,760.1 265.1,759.8 266.7,759.7 268.3,759.8 270.0,760.0 271.8,760.5 273.6,761.3 275.4,762.3 277.3,763.3 279.2,764.2 281.2,765.0 283.4,765.6 285.5,766.2 287.7,766.7 290.0,767.2 292.5,767.6 295.0,768.0 297.8,768.3 300.7,768.6 303.8,768.9 306.9,769.1 309.8,769.3 312.5,769.5 314.8,769.6 317.0,769.7 318.9,769.7 320.9,769.8 322.8,769.9 325.0,770.0 327.4,770.2 330.0,770.5 332.7,770.8 335.3,771.1 337.7,771.4 339.8,771.8 341.4,772.1 342.9,772.6 344.1,773.0 345.2,773.5 346.3,773.9 347.5,774.2 348.8,774.5 350.0,774.8 351.3,775.0 352.5,775.1 353.8,775.2 355.0,775.2 356.2,775.2 357.4,775.0 358.5,774.7 359.7,774.5 361.0,774.3 362.5,774.2 364.2,774.3 366.0,774.3 367.9,774.4 369.9,774.6 371.8,775.0 373.8,775.8 375.6,776.9 377.5,778.3 379.5,780.0 381.3,781.8 383.2,783.5 385.0,785.0 386.7,786.4 388.4,787.8 390.1,789.1 391.7,790.3 393.3,791.5 395.0,792.5 396.7,793.4 398.3,794.1 400.0,794.8 401.7,795.3 403.3,795.8 405.0,796.2 406.6,796.6 408.2,796.9 409.8,797.1 411.5,797.2 413.2,797.4 415.0,797.5 416.9,797.6 419.0,797.8 421.1,797.9 423.2,798.0 425.4,798.0 427.5,798.0 429.6,798.0 431.8,798.0 433.9,798.0 436.0,797.8 438.1,797.5 440.0,797.0 441.8,796.2 443.3,795.3 444.8,794.1 446.4,792.9 448.1,791.5 450.0,790.0 452.3,788.3 454.8,786.4 457.4,784.4 460.1,782.4 462.7,780.5 465.0,778.8 467.1,777.3 469.0,776.1 470.9,774.9 472.6,773.8 474.4,772.6 476.2,771.2 478.1,769.7 480.0,767.9 481.8,766.1 483.7,764.4 485.6,762.7 487.5,761.2 489.5,760.0 491.7,759.0 493.8,758.0 496.0,757.1 498.0,756.3 500.0,755.5 501.8,754.7 503.6,753.9 505.3,753.2 507.0,752.5 508.5,751.9 510.0,751.2 511.4,750.6 512.6,749.9 513.8,749.3 514.9,748.7 516.0,748.3 517.0,748.0 517.9,747.9 518.7,747.9 519.5,748.0 520.3,748.3 521.3,748.7 522.5,749.2 524.0,750.1 525.8,751.3 527.8,752.6 529.8,753.9 531.8,755.0 533.8,755.8 535.6,756.1 537.5,756.2 539.4,756.1 541.2,756.0 543.1,755.9 545.0,756.0 546.9,756.2 548.8,756.4 550.6,756.6 552.5,757.0 554.4,757.5 556.2,758.2 558.1,759.3 560.0,760.6 561.8,762.1 563.7,763.6 565.6,765.1 567.5,766.2 569.5,767.3 571.6,768.2 573.7,769.1 575.8,769.8 577.9,770.4 580.0,770.8 582.1,770.9 584.2,770.7 586.2,770.4 588.3,770.1 590.4,769.7 592.5,769.5 594.6,769.4 596.8,769.4 599.0,769.4 601.1,769.4 603.1,769.2 605.0,769.0 606.6,768.6 608.1,768.2 609.5,767.7 610.8,767.1 612.2,766.4 613.8,765.5 615.5,764.4 617.4,763.2 619.3,761.8 621.2,760.4 623.2,758.9 625.0,757.5 626.7,756.1 628.3,754.8 629.9,753.4 631.5,752.0 633.2,750.4 635.0,748.8 636.9,746.8 639.0,744.8 641.1,742.5 643.2,740.3 645.4,738.2 647.5,736.2 649.6,734.4 651.7,732.7 653.8,731.0 655.8,729.5 657.9,728.0 660.0,726.8 662.1,725.6 664.4,724.7 666.6,723.9 668.7,723.2 670.7,722.5 672.5,721.8 674.0,721.1 675.3,720.5 676.4,720.0 677.5,719.4 678.6,718.6 679.8,717.5 681.0,716.0 682.3,714.1 683.6,712.1 684.9,710.1 686.2,708.3 687.5,707.0 688.7,706.2 689.9,705.7 691.1,705.4 692.3,705.3 693.6,705.3 695.0,705.2 696.5,705.2 698.1,705.2 699.8,705.2 701.6,705.4 703.3,705.7 705.0,706.2 706.7,707.0 708.4,707.9 710.1,709.0 711.8,710.1 713.4,711.3 715.0,712.5 716.5,713.7 717.9,715.0 719.3,716.3 720.7,717.6 722.2,718.9 723.8,720.0 725.5,721.1 727.4,722.0 729.3,723.0 731.2,723.9 733.2,724.7 735.0,725.5 736.8,726.2 738.5,726.9 740.2,727.4 741.9,728.0 743.5,728.6 745.0,729.2 746.4,730.0 747.7,730.8 748.9,731.6 750.1,732.4 751.3,733.1 752.5,733.8 753.7,734.2 754.9,734.6 756.1,734.9 757.3,735.2 758.6,735.6 760.0,736.2 761.5,737.1 763.1,738.0 764.8,739.1 766.6,740.2 768.3,741.3 770.0,742.5 771.7,743.6 773.3,744.8 774.9,745.9 776.6,747.2 778.3,748.5 780.0,750.0 781.8,751.7 783.7,753.7 785.5,755.8 787.5,757.9 789.4,759.7 791.2,761.2 793.1,762.3 795.0,763.0 796.8,763.5 798.7,764.0 800.6,764.6 802.5,765.5 804.5,766.8 806.7,768.4 808.8,770.1 811.0,771.8 813.0,773.3 815.0,774.5 816.8,775.2 818.4,775.7 820.0,776.0 821.6,776.1 823.2,776.4 825.0,776.8 827.0,777.3 829.1,777.8 831.2,778.4 833.4,779.0 835.5,779.7 837.5,780.5 839.4,781.5 841.2,782.7 842.9,783.9 844.5,785.1 846.1,786.2 847.5,787.0 848.8,787.5 849.9,787.9 850.9,788.1 851.8,788.2 852.8,788.3 853.8,788.2 854.7,788.2 855.6,788.2 856.6,788.2 857.5,787.9 858.7,787.5 860.0,786.8 861.6,785.6 863.3,784.2 865.2,782.5 867.1,780.7 869.2,779.0 871.2,777.5 873.4,776.2 875.7,775.0 878.1,773.9 880.5,772.8 882.8,771.7 885.0,770.5 887.0,769.2 888.9,767.8 890.8,766.4 892.6,765.0 894.4,763.7 896.2,762.5 898.2,761.5 900.1,760.5 902.0,759.7 903.9,758.9 905.8,758.2 907.5,757.5 909.1,756.9 910.7,756.4 912.2,756.0 913.6,755.6 915.0,755.3 916.2,755.0 917.4,754.8 918.5,754.8 919.5,754.8 920.4,754.7 921.4,754.5 922.5,754.0 923.6,753.1 924.8,752.0 926.0,750.6 927.3,749.2 928.6,747.9 930.0,746.8 931.5,745.8 933.1,744.8 934.8,744.0 936.6,743.2 938.3,742.5 940.0,742.0 941.6,741.6 943.2,741.5 944.8,741.4 946.5,741.4 948.2,741.3 950.0,741.2 952.0,741.1 954.0,741.1 956.2,741.0 958.3,740.9 960.5,740.7 962.5,740.5 964.5,740.2 966.4,739.7 968.4,739.2 970.2,738.8 972.0,738.4 973.8,738.2 975.4,738.3 976.9,738.4 978.3,738.6 979.7,738.9 981.1,739.2 982.5,739.5 983.9,739.8 985.3,740.1 986.7,740.5 988.1,740.8 989.6,741.0 991.2,741.0 993.0,740.8 994.9,740.4 996.8,739.8 998.8,739.3 1000.7,738.9 1002.5,738.8 1004.3,738.9 1006.0,739.3 1007.8,739.8 1009.4,740.4 1011.0,740.9 1012.5,741.2 1013.9,741.4 1015.1,741.5 1016.3,741.5 1017.5,741.5 1018.6,741.5 1019.8,741.5 1020.9,741.6 1022.0,741.6 1023.1,741.7 1024.2,741.8 1025.3,741.7 1026.5,741.5 1027.7,741.1 1028.9,740.6 1030.1,740.1 1031.4,739.4 1032.7,738.7 1034.0,738.0 1035.4,737.2 1036.7,736.3 1038.1,735.4 1039.6,734.5 1041.1,733.7 1042.8,733.0 1044.5,732.5 1046.3,732.2 1048.2,731.9 1050.2,731.7 1052.1,731.5 1054.0,731.2 1055.9,731.0 1057.8,730.7 1059.6,730.4 1061.5,730.1 1063.4,729.8 1065.2,729.5 1067.1,729.2 1069.0,729.0 1070.8,728.8 1072.7,728.6 1074.6,728.3 1076.5,728.0 1078.6,727.6 1080.8,727.1 1083.0,726.6 1085.2,726.1 1087.2,725.7 1089.0,725.5 1090.5,725.5 1091.8,725.6 1093.0,725.8 1094.1,726.0 1095.2,726.4 1096.5,726.8 1097.9,727.1 1099.3,727.5 1100.7,728.0 1102.2,728.6 1103.7,729.2 1105.2,730.0 1106.9,731.0 1108.5,732.1 1110.2,733.4 1112.0,734.6 1113.6,735.9 1115.2,737.0 1116.8,738.0 1118.3,739.0 1119.8,740.0 1121.2,740.9 1122.6,741.7 1124.0,742.5 1125.3,743.2 1126.6,744.0 1127.8,744.6 1129.0,745.2 1130.3,745.8 1131.5,746.2 1132.8,746.7 1134.0,747.1 1135.2,747.4 1136.5,747.7 1137.8,747.9 1139.0,748.0 1140.2,748.0 1141.5,747.8 1142.7,747.6 1143.9,747.3 1145.2,747.0 1146.5,746.8 1147.9,746.5 1149.4,746.3 1150.9,746.1 1152.4,745.9 1153.8,745.7 1155.2,745.5 1156.6,745.3 1157.9,745.1 1159.2,744.9 1160.4,744.7 1161.6,744.6 1162.8,744.5 1163.8,744.6 1164.9,744.7 1165.9,745.0 1166.9,745.2 1167.9,745.3 1169.0,745.2 1170.2,745.1 1171.4,744.8 1172.6,744.4 1173.9,744.0 1175.2,743.5 1176.5,743.0 1177.9,742.5 1179.2,741.9 1180.6,741.2 1182.1,740.6 1183.6,740.0 1185.2,739.5 1187.1,739.1 1189.2,738.8 1191.4,738.5 1193.5,738.3 1195.2,738.1 1196.5,738.0" fill="none" stroke="#fdd835" stroke-width="1.1" stroke-linejoin="round"/>
<polyline points="8.6,685.9 14.3,680.0 20.0,705.0 25.7,703.8 31.4,711.2 37.2,746.8 42.9,756.8 48.6,752.0 54.3,775.8 60.0,754.2 65.7,760.0 71.5,740.0 77.2,741.2 82.9,740.5 88.6,710.0 94.3,697.5 100.0,701.2 105.8,719.5 111.5,721.8 117.2,698.0 122.9,733.0 128.6,720.0 134.3,734.2 140.1,802.5 145.8,803.8 151.5,763.2 157.2,748.8 162.9,760.0 168.6,769.5 174.4,776.2 180.1,783.0 185.8,776.2 191.5,765.0 197.2,760.0 202.9,768.0 208.7,775.0 214.4,761.8 220.1,753.2 225.8,753.8 231.5,735.0 237.2,742.5 243.0,754.2 248.7,757.5 254.4,775.8 260.1,770.0 265.8,766.8 271.5,767.5 277.3,793.8 283.0,806.8 288.7,785.0 294.4,790.5 300.1,755.0 305.8,758.8 311.6,750.0 317.3,740.0 323.0,760.0 328.7,766.2 334.4,773.8 340.1,788.8 345.9,783.2 351.6,792.5 357.3,800.0 363.0,790.8 368.7,796.2 374.4,809.5 380.2,817.5 385.9,820.0 391.6,815.5 397.3,792.5 403.0,795.0 408.7,779.5 414.5,781.2 420.2,788.8 425.9,792.5 431.6,793.0 437.3,809.5 443.0,753.0 448.8,736.8 454.5,744.5 460.2,761.2 465.9,762.5 471.6,758.8 477.3,740.5 483.1,707.0 488.8,722.5 494.5,742.5 500.2,754.5 505.9,753.0 511.6,763.0 517.4,768.8 523.1,770.0 528.8,783.0 534.5,793.0 540.2,762.0 545.9,765.0 551.7,770.0 557.4,763.2 563.1,770.0 568.8,775.5 574.5,785.0 580.2,775.8 586.0,747.0 591.7,748.2 597.4,763.2 603.1,765.0 608.8,781.2 614.5,750.0 620.3,705.5 626.0,711.2 631.7,700.0 637.4,682.0 643.1,684.2 648.8,705.0 654.6,712.0 660.3,716.8 666.0,720.5 671.7,717.5 677.4,723.8 683.1,682.5 688.9,693.0 694.6,718.8 700.3,716.2 706.0,714.2 711.7,740.0 717.4,746.2 723.2,765.5 728.9,743.8 734.6,750.0 740.3,749.2 746.0,751.2 751.7,771.2 757.5,751.2 763.2,738.2 768.9,741.2 774.6,766.2 780.3,779.5 786.0,800.0 791.8,805.0 797.5,783.2 803.2,788.2 808.9,793.0 814.6,819.2 820.3,775.0 826.1,777.5 831.8,779.2 837.5,779.5 843.2,786.2 848.9,790.8 854.6,776.2 860.4,762.0 866.1,730.8 871.8,745.0 877.5,739.5 883.2,745.0 888.9,753.8 894.6,754.5 900.4,734.5 906.1,741.2 911.8,752.5 917.5,762.5 923.2,766.8 928.9,707.5 934.7,721.2 940.4,732.5 946.1,727.5 951.8,737.0 957.5,732.0 963.2,750.0 969.0,728.8 974.7,738.2 980.4,750.0 986.1,755.0 991.8,762.0 997.5,750.0 1003.3,738.8 1009.0,737.5 1014.7,735.8 1020.4,732.0 1026.1,735.0 1031.8,720.0 1037.6,685.0 1043.3,687.5 1049.0,718.0 1054.7,728.8 1060.4,731.2 1066.1,744.2 1071.9,757.5 1077.6,734.2 1083.3,725.0 1089.0,716.8 1094.7,744.5 1100.4,757.0 1106.2,757.5 1111.9,767.0 1117.6,758.0 1123.3,761.2 1129.0,744.5 1134.7,760.0 1140.5,742.5 1146.2,739.2 1151.9,732.0 1157.6,741.2 1163.3,704.2 1169.0,727.5 1174.8,721.2 1180.5,721.2 1186.2,731.8 1191.9,756.8 1197.6,744.5" fill="none" stroke="#7e57c2" stroke-width="3" stroke-linejoin="round" stroke-linecap="round"/>
</g>
<g stroke="#e0e3eb" stroke-width="1" fill="none" shape-rendering="crispEdges">
<line x1="1283.5" y1="27" x2="1283.5" y2="859"/>
<line x1="10" y1="629.5" x2="1349" y2="629.5"/>
<line x1="10" y1="831.5" x2="1349" y2="831.5"/>
</g>
<rect x="10.05" y="27.1" width="1339" height="831.8" fill="none" stroke="#f0f1f3" stroke-width="1.7"/>
<text x="10.5" y="19" font-size="13" fill="#131722" textLength="360.5" lengthAdjust="spacingAndGlyphs" stroke="#131722" stroke-width="0.22">ranadagger created with TradingView.com, Apr 13, 2026 15:08 UTC</text>
<g font-size="13" fill="#131722" stroke="#131722" stroke-width="0.22">
<text x="18.2" y="46" textLength="183.5" lengthAdjust="spacingAndGlyphs">Cardano / TetherUS · 1D · Binance</text>
<text x="210.0" y="46" textLength="7.5" lengthAdjust="spacingAndGlyphs">O</text>
<text x="218.5" y="46" fill="#26a69a" textLength="35.0" lengthAdjust="spacingAndGlyphs" stroke="#26a69a" stroke-width="0.22">0.2362</text>
<text x="261.0" y="46" textLength="6.5" lengthAdjust="spacingAndGlyphs">H</text>
<text x="268.5" y="46" fill="#26a69a" textLength="35.5" lengthAdjust="spacingAndGlyphs" stroke="#26a69a" stroke-width="0.22">0.2433</text>
<text x="312.5" y="46" textLength="4.5" lengthAdjust="spacingAndGlyphs">L</text>
<text x="318.0" y="46" fill="#26a69a" textLength="35.5" lengthAdjust="spacingAndGlyphs" stroke="#26a69a" stroke-width="0.22">0.2358</text>
<text x="361.0" y="46" textLength="6.5" lengthAdjust="spacingAndGlyphs">C</text>
<text x="368.5" y="46" fill="#26a69a" textLength="35.0" lengthAdjust="spacingAndGlyphs" stroke="#26a69a" stroke-width="0.22">0.2409</text>
<text x="411" y="46" fill="#26a69a" textLength="91" lengthAdjust="spacingAndGlyphs" stroke="#26a69a" stroke-width="0.22">+0.0048 (+2.03%)</text>
<text x="18.2" y="63" textLength="82" lengthAdjust="spacingAndGlyphs">EMA (20, close)</text>
<text x="107.5" y="63" fill="#2962ff" textLength="35.5" lengthAdjust="spacingAndGlyphs" stroke="#2962ff" stroke-width="0.22">0.2504</text>
<text x="18.2" y="79.7" textLength="81.5" lengthAdjust="spacingAndGlyphs">SMA (50, close)</text>
<text x="107" y="79.7" fill="#f23645" textLength="35.5" lengthAdjust="spacingAndGlyphs" stroke="#f23645" stroke-width="0.22">0.2604</text>
<text y="648.5"><tspan x="18.4" textLength="15.2" lengthAdjust="spacingAndGlyphs">RSI</tspan><tspan> </tspan><tspan x="38.7" textLength="19.1" lengthAdjust="spacingAndGlyphs">(14,</tspan><tspan> </tspan><tspan x="62.7" textLength="31.4" lengthAdjust="spacingAndGlyphs">close)</tspan></text>
<text x="101.5" y="648.5" fill="#7e57c2" textLength="29" lengthAdjust="spacingAndGlyphs" stroke="#7e57c2" stroke-width="0.22">43.11</text>
<text x="138" y="648.5" fill="#fdd835" textLength="30" lengthAdjust="spacingAndGlyphs" stroke="#fdd835" stroke-width="0.22">44.97</text>
</g>
<g font-size="12" fill="#131722" stroke="#131722" stroke-width="0.22">
<text x="1292" y="90.5" textLength="35.5" lengthAdjust="spacingAndGlyphs">0.9000</text>
<text x="1292" y="128.1" textLength="35.5" lengthAdjust="spacingAndGlyphs">0.8500</text>
<text x="1292" y="165.8" textLength="35.5" lengthAdjust="spacingAndGlyphs">0.8000</text>
<text x="1292" y="203.4" textLength="35.5" lengthAdjust="spacingAndGlyphs">0.7500</text>
<text x="1292" y="241.1" textLength="35.5" lengthAdjust="spacingAndGlyphs">0.7000</text>
<text x="1292" y="278.7" textLength="35.5" lengthAdjust="spacingAndGlyphs">0.6500</text>
<text x="1292" y="316.3" textLength="35.5" lengthAdjust="spacingAndGlyphs">0.6000</text>
<text x="1292" y="354.0" textLength="35.5" lengthAdjust="spacingAndGlyphs">0.5500</text>
<text x="1292" y="429.3" textLength="35.5" lengthAdjust="spacingAndGlyphs">0.4500</text>
<text x="1292" y="466.9" textLength="35.5" lengthAdjust="spacingAndGlyphs">0.4000</text>
<text x="1292" y="504.5" textLength="35.5" lengthAdjust="spacingAndGlyphs">0.3500</text>
<text x="1292" y="645.1" textLength="29.5" lengthAdjust="spacingAndGlyphs">70.00</text>
<text x="1292" y="684.2" textLength="29.5" lengthAdjust="spacingAndGlyphs">60.00</text>
<text x="1292" y="723.4" textLength="29.5" lengthAdjust="spacingAndGlyphs">50.00</text>
<text x="1292" y="762.6" textLength="29.5" lengthAdjust="spacingAndGlyphs">40.00</text>
<text x="1292" y="801.7" textLength="29.5" lengthAdjust="spacingAndGlyphs">30.00</text>
</g>
<rect x="1287" y="31.5" width="58" height="25" rx="4" fill="#fff" stroke="#e0e3eb"/>
<text x="1296" y="48.5" font-size="12" fill="#131722" textLength="27" lengthAdjust="spacingAndGlyphs" stroke="#131722" stroke-width="0.22">USDT</text>
<path d="M1284.0 362.2h46.4a2.5 2.5 0 0 1 2.5 2.5v11.8a2.5 2.5 0 0 1 -2.5 2.5h-46.4z" fill="#0000ff"/>
<text x="1292.0" y="374.9" font-size="12" fill="#fff" textLength="35.5" lengthAdjust="spacingAndGlyphs" stroke="#fff" stroke-width="0.22">0.5000</text>
<path d="M1284.0 379.0h46.4a2.5 2.5 0 0 1 2.5 2.5v11.8a2.5 2.5 0 0 1 -2.5 2.5h-46.4z" fill="#0000ff"/>
<text x="1292.0" y="391.7" font-size="12" fill="#fff" textLength="35.5" lengthAdjust="spacingAndGlyphs" stroke="#fff" stroke-width="0.22">0.5000</text>
<rect x="1233.0" y="524.2" width="50.0" height="16.8" rx="2" fill="#f23645"/>
<text x="1237.5" y="536.9" font-size="12" fill="#fff" textLength="41.0" lengthAdjust="spacingAndGlyphs" stroke="#fff" stroke-width="0.22">SMA:MA</text>
<path d="M1284.0 524.2h46.5a2.5 2.5 0 0 1 2.5 2.5v11.8a2.5 2.5 0 0 1 -2.5 2.5h-46.5z" fill="#f23645"/>
<text x="1292.0" y="536.9" font-size="12" fill="#fff" textLength="35.5" lengthAdjust="spacingAndGlyphs" stroke="#fff" stroke-width="0.22">0.2604</text>
<rect x="1252.2" y="541.2" width="30.8" height="16.3" rx="2" fill="#2962ff"/>
<text x="1256.5" y="553.6" font-size="12" fill="#fff" textLength="23.0" lengthAdjust="spacingAndGlyphs" stroke="#fff" stroke-width="0.22">EMA</text>
<path d="M1284.0 541.2h46.5a2.5 2.5 0 0 1 2.5 2.5v11.3a2.5 2.5 0 0 1 -2.5 2.5h-46.5z" fill="#2962ff"/>
<text x="1292.0" y="553.6" font-size="12" fill="#fff" textLength="35.5" lengthAdjust="spacingAndGlyphs" stroke="#fff" stroke-width="0.22">0.2504</text>
<path d="M1284.0 558.0h46.5a2.5 2.5 0 0 1 2.5 2.5v11.8a2.5 2.5 0 0 1 -2.5 2.5h-46.5z" fill="#0000ff"/>
<text x="1292.0" y="570.7" font-size="12" fill="#fff" textLength="35.5" lengthAdjust="spacingAndGlyphs" stroke="#fff" stroke-width="0.22">0.2500</text>
<rect x="1225.0" y="575.0" width="58.0" height="16.8" rx="2" fill="#26a69a"/>
<text x="1229.5" y="587.7" font-size="12" fill="#fff" textLength="49.5" lengthAdjust="spacingAndGlyphs" stroke="#fff" stroke-width="0.22">ADAUSDT</text>
<path d="M1284 575h57.5a2.5 2.5 0 0 1 2.5 2.5v39.7a2.5 2.5 0 0 1 -2.5 2.5h-57.5z" fill="#26a69a"/>
<g font-size="12" fill="#fff" stroke="#fff" stroke-width="0.22"><text x="1292" y="587.8" textLength="35.5" lengthAdjust="spacingAndGlyphs">0.2409</text>
<text x="1292" y="602" textLength="43" lengthAdjust="spacingAndGlyphs">−73.64%</text>
<text x="1292" y="616.3" fill="#c9e9e6" textLength="46" lengthAdjust="spacingAndGlyphs" stroke="#c9e9e6" stroke-width="0.22">08:51:03</text></g>
<rect x="1204.0" y="720.0" width="79.0" height="16.3" rx="2" fill="#fdd835"/>
<text x="1208.5" y="732.4" font-size="12" fill="#131722" textLength="70.0" lengthAdjust="spacingAndGlyphs" stroke="#131722" stroke-width="0.22">RSI-based MA</text>
<path d="M1284.0 720.0h40.0a2.5 2.5 0 0 1 2.5 2.5v11.3a2.5 2.5 0 0 1 -2.5 2.5h-40.0z" fill="#fdd835"/>
<text x="1292.0" y="732.4" font-size="12" fill="#131722" textLength="29.5" lengthAdjust="spacingAndGlyphs" stroke="#131722" stroke-width="0.22">44.97</text>
<rect x="1257.8" y="737.5" width="25.2" height="16.3" rx="2" fill="#7e57c2"/>
<text x="1262.5" y="749.9" font-size="12" fill="#fff" textLength="16.0" lengthAdjust="spacingAndGlyphs" stroke="#fff" stroke-width="0.22">RSI</text>
<path d="M1284.0 737.5h40.0a2.5 2.5 0 0 1 2.5 2.5v11.3a2.5 2.5 0 0 1 -2.5 2.5h-40.0z" fill="#7e57c2"/>
<text x="1292.0" y="749.9" font-size="12" fill="#fff" textLength="29.5" lengthAdjust="spacingAndGlyphs" stroke="#fff" stroke-width="0.22">43.11</text>
<g font-size="12" fill="#131722" text-anchor="middle" stroke="#131722" stroke-width="0.22">
<text x="88.5" y="849.3" textLength="18" lengthAdjust="spacingAndGlyphs">Oct</text>
<text x="265.5" y="849.3" textLength="20" lengthAdjust="spacingAndGlyphs">Nov</text>
<text x="437.0" y="849.3" textLength="19.5" lengthAdjust="spacingAndGlyphs">Dec</text>
<text x="614.0" y="849.3" textLength="27.5" lengthAdjust="spacingAndGlyphs" font-weight="bold">2026</text>
<text x="791.0" y="849.3" textLength="19.5" lengthAdjust="spacingAndGlyphs">Feb</text>
<text x="951.3" y="849.3" textLength="20" lengthAdjust="spacingAndGlyphs">Mar</text>
<text x="1128.3" y="849.3" textLength="18" lengthAdjust="spacingAndGlyphs">Apr</text>
</g>
<g fill="#101010"><path d="M12 881H24.5V896H18V887H12z"/><circle cx="28.9" cy="884.1" r="3"/><path d="M33.9 881H41.7L36.3 896H29.1z"/></g>
<text x="49.3" y="896" font-size="21" font-weight="bold" fill="#101010" textLength="120.5" lengthAdjust="spacingAndGlyphs" stroke="#101010" stroke-width="0.22">TradingView</text>
</svg></body></html>
